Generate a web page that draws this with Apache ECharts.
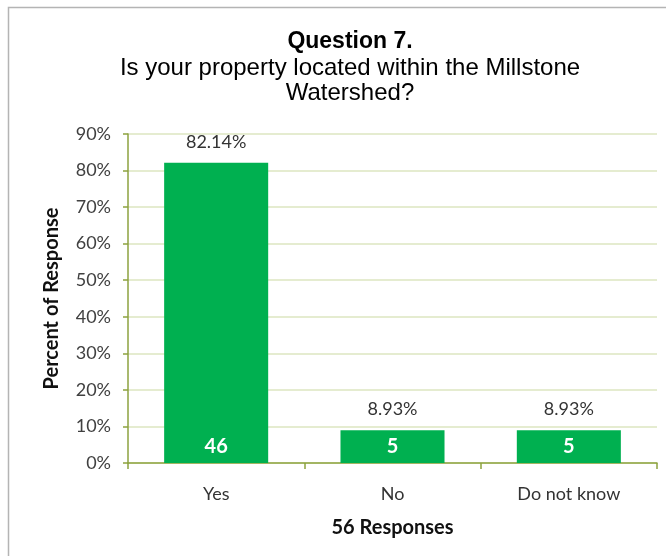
<!DOCTYPE html>
<html><head><meta charset="utf-8">
<script src="https://cdn.jsdelivr.net/npm/echarts@6/dist/echarts.min.js"></script>
<style>html,body{margin:0;padding:0;background:#fff}#c{width:666px;height:556px}</style>
</head><body><div id="c"></div>
<script>
const categories = ['Yes', 'No', 'Do not know'];
const percents = [82.14, 8.93, 8.93];
const counts = [46, 5, 5];
const yTicks = [0, 10, 20, 30, 40, 50, 60, 70, 80, 90];

const chart = echarts.init(document.getElementById('c'));
const axisColor = '#8da23f';
const labelFont = 'Lato, "Open Sans", sans-serif';
chart.setOption({
  animation: false,
  backgroundColor: '#fff',
  graphic: [{
    type: 'rect', shape: {x: 8.5, y: 7.5, width: 700, height: 600},
    style: {fill: 'none', stroke: '#b4b4b4', lineWidth: 1.5}, z: -1
  }],
  title: {
    text: 'Question 7.',
    subtext: 'Is your property located within the Millstone\nWatershed?',
    left: 345, top: 24, textAlign: 'center', itemGap: 1,
    textStyle: {fontFamily: '"Liberation Sans", Arial, sans-serif', fontSize: 23, fontWeight: 'bold', color: '#000', lineHeight: 26},
    subtextStyle: {fontFamily: '"Liberation Sans", Arial, sans-serif', fontSize: 24, color: '#000', lineHeight: 25}
  },
  grid: {left: 128, right: 9, top: 134, bottom: 93},
  xAxis: {
    type: 'category', data: categories,
    name: '56 Responses', nameLocation: 'middle', nameGap: 55,
    nameTextStyle: {fontFamily: labelFont, fontSize: 20, fontWeight: 'bold', color: '#111'},
    axisLine: {lineStyle: {color: axisColor, width: 1.5}},
    axisTick: {show: true, length: 6, lineStyle: {color: axisColor, width: 1.5}},
    axisLabel: {fontFamily: labelFont, fontSize: 18, color: '#333', margin: 22}
  },
  yAxis: {
    type: 'value', min: 0, max: 90, interval: 10,
    name: 'Percent of Response', nameLocation: 'middle', nameGap: 66,
    nameTextStyle: {fontFamily: labelFont, fontSize: 20, fontWeight: 'bold', color: '#111'},
    axisLine: {show: true, lineStyle: {color: axisColor, width: 1.5}},
    axisTick: {show: true, length: 5, lineStyle: {color: axisColor, width: 1.5}},
    axisLabel: {fontFamily: labelFont, fontSize: 18, color: '#404040', margin: 17,
      formatter: v => yTicks.includes(v) ? v + '%' : ''},
    splitLine: {lineStyle: {color: '#dde6c0', width: 1.5}}
  },
  series: [{
    type: 'bar', data: percents, barCategoryGap: '41%',
    itemStyle: {color: '#00b050'},
    label: {show: true, position: 'top', distance: 12, fontFamily: labelFont, fontSize: 18, color: '#333',
      formatter: p => p.value.toFixed(2) + '%'}
  }, {
    type: 'bar', data: percents, barGap: '-100%', barCategoryGap: '41%',
    itemStyle: {color: 'rgba(0,0,0,0)'},
    label: {show: true, position: 'insideBottom', distance: 6, fontFamily: labelFont, fontSize: 20, fontWeight: 'bold', color: '#fff',
      formatter: p => String(counts[p.dataIndex])}
  }]
});
</script></body></html>
